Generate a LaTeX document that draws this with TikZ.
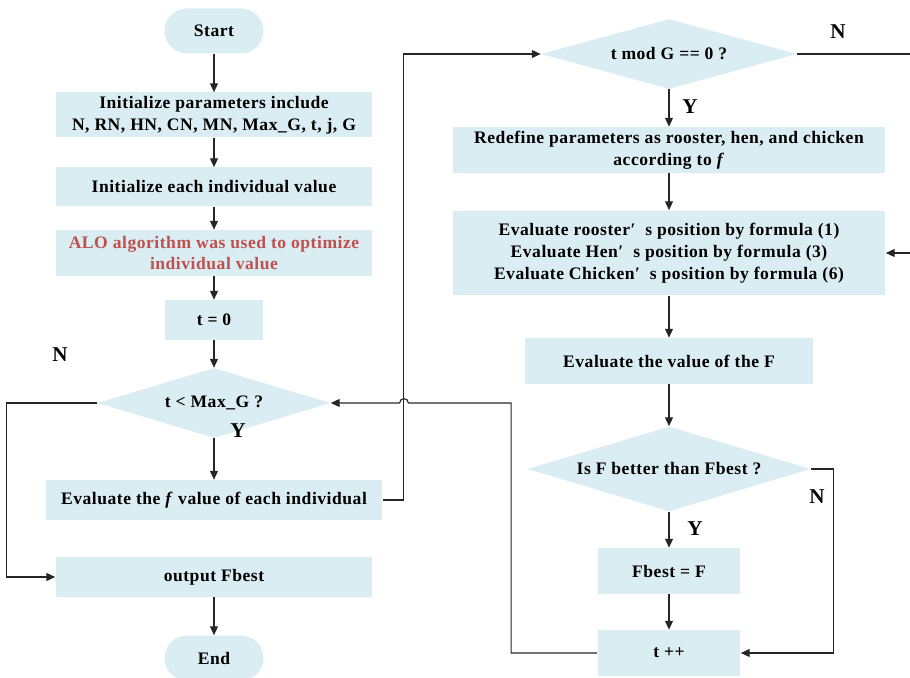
\documentclass[tikz,border=0pt]{standalone}
\usepackage{fontspec}
\setmainfont{Liberation Serif}
\newfontfamily\boxfont[LetterSpace=3]{Liberation Serif}
\usetikzlibrary{shapes.geometric,arrows.meta}
\definecolor{boxblue}{HTML}{DAEDF3}
\definecolor{algred}{HTML}{C0504D}

\begin{document}
\begin{tikzpicture}[x=0.02cm, y=-0.02cm,
  bx/.style={rectangle, fill=boxblue, draw=none, minimum width=6.34cm,
             minimum height=0.9cm, inner sep=1pt, align=center,
             font=\boxfont\fontsize{10}{12.5}\selectfont\bfseries},
  term/.style={bx, minimum width=1.98cm, rounded corners=0.45cm},
  dec/.style={diamond, fill=boxblue, draw=none, inner sep=0pt, aspect=3.3,
              align=center, font=\boxfont\fontsize{10}{12.5}\selectfont\bfseries},
  line/.style={line width=0.65pt, draw=black!85},
  arr/.style={line, -{Triangle[length=5pt,width=4.5pt]}},
  lbl/.style={font=\fontsize{12}{14}\selectfont\bfseries}]
\useasboundingbox (0,0) rectangle (910,678);
\node[term] (start) at (214,31) {Start};
\node[bx] (init) at (214,115) {Initialize parameters include\\N, RN, HN, CN, MN, Max\_G, t, j, G};
\node[bx, minimum height=0.78cm] (each) at (214,187) {Initialize each individual value};
\node[bx, text=algred, minimum height=0.92cm] (alo) at (214,253) {ALO algorithm was used to optimize\\individual value};
\node[bx, minimum width=1.98cm, minimum height=0.8cm] (tzero) at (214,320) {t = 0};
\node[dec, minimum width=4.66cm, minimum height=1.4cm] (tmax) at (214,403) {t < Max\_G ?};
\node[bx, minimum width=6.74cm, minimum height=0.8cm] (evalf) at (214,500) {Evaluate the \textit{f} value of each individual};
\node[bx, minimum height=0.8cm] (out) at (214,577) {output Fbest};
\node[term] (stop) at (214,658) {End};
\node[dec, minimum width=5.12cm, minimum height=1.4cm] (tmod) at (669,54) {t mod G == 0 ?};
\node[bx, minimum width=8.66cm, minimum height=0.92cm] (redef) at (669,150) {Redefine parameters as rooster, hen, and chicken\\according to \textit{f}};
\node[bx, minimum width=8.66cm, minimum height=1.7cm] (pos) at (669,253) {Evaluate rooster′\ \ s position by formula (1)\\Evaluate Hen′\ \ s position by formula (3)\\Evaluate Chicken′\ \ s position by formula (6)};
\node[bx, minimum width=5.76cm, minimum height=0.92cm] (evalF) at (669,361) {Evaluate the value of the F};
\node[dec, minimum width=5.66cm, minimum height=1.7cm] (better) at (669,469) {Is F better than Fbest ?};
\node[bx, minimum width=2.86cm, minimum height=0.92cm] (fset) at (669,571) {Fbest = F};
\node[bx, minimum width=2.86cm, minimum height=0.92cm] (tinc) at (669,653) {t ++};
\node[lbl] (nmax) at (60,355) {N};
\node[lbl] (ymax) at (238,431) {Y};
\node[lbl] (nmod) at (838,32) {N};
\node[lbl] (ymod) at (690,107) {Y};
\node[lbl] (ybet) at (695,529) {Y};
\node[lbl] (nbet) at (817,497) {N};
\coordinate (hop) at (404,403);
\coordinate (nout) at (910,54);
\coordinate (nin) at (910,253);
\draw[arr] (start) -- (init);
\draw[arr] (init) -- (each);
\draw[arr] (each) -- (alo);
\draw[arr] (alo) -- (tzero);
\draw[arr] (tzero) -- (tmax);
\draw[arr] (tmax) -- (evalf);
\draw[arr] (out) -- (stop);
\draw[arr] (tmax.west) -- ++(-91,0) |- (out.west);
\draw[arr] (evalf.east) -- ++(21,0) |- (tmod.west);
\draw[arr] (tmod) -- (redef);
\draw[arr] (redef) -- (pos);
\draw[arr] (pos) -- (evalF);
\draw[arr] (evalF) -- (better);
\draw[arr] (better) -- (fset);
\draw[arr] (fset) -- (tinc);
\draw[arr] (better.east) -- ++(23,0) |- (tinc.east);
\draw[arr] (tinc.west) -- ++(-86,0) |- ([xshift=2.5pt]hop)
  arc[start angle=0, end angle=180, radius=2.5pt] -- (tmax.east);
\draw[line] (tmod.east) -- (nout);
\draw[arr] (nin) -- (pos.east);
\end{tikzpicture}
\end{document}
